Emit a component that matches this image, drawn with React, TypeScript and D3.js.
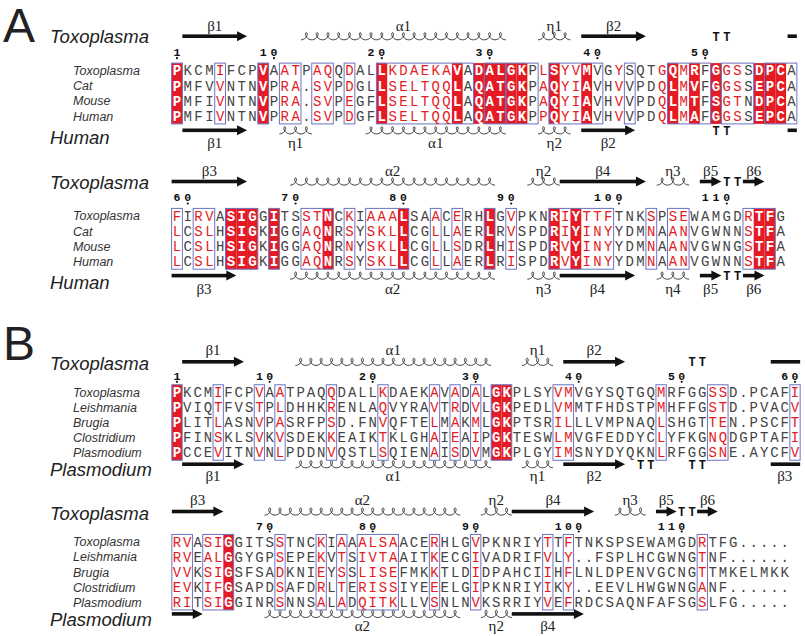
import React from "react";
import * as d3 from "d3";

// ---------------- DATA ----------------
const speciesA = ["Toxoplasma", "Cat", "Mouse", "Human"];
const speciesB = ["Toxoplasma", "Leishmania", "Brugia", "Clostridium", "Plasmodium"];

const seqsA1 = [
  "PKCMIFCPVAATPAQQDALLKDAEKAVADALGKPLSYVMVGYSQTGQMRFGGSSDPCA",
  "PMFVVNTNVPRA.SVPDGLLSELTQQLAQATGKPAQYIAVHVVPDQLMVFGGSSEPCA",
  "PMFIVNTNVPRA.SVPEGFLSELTQQLAQATGKPAQYIAVHVVPDQLMTFSGTNDPCA",
  "PMFIVNTNVPRA.SVPDGFLSELTQQLAQATGKPPQYIAVHVVPDQLMAFGGSSEPCA",
];
const maskA1 = "R---r---R-rr-rr-r--RrrrrrrR-RRRRR-rRrrR--r---rRrR-Rrr-RRR";
const framesA1 = [[1, 1], [5, 5], [9, 9], [11, 12], [14, 15], [17, 17], [20, 28], [30, 31], [32, 34], [36, 40], [43, 43], [47, 50], [52, 54], [56, 58]];

const seqsA2 = [
  "FIRVASIGGITSSTNCKIAAALSAACERHLGVPKNRIYTTFTNKSPSEWAMGDRTFG",
  "LCSLHSIGKIGGAQNRSYSKLLCGLLAERLRVSPDRIYINYYDMNAANVGWNNSTFA",
  "LCSLHSIGKIGGAQNRNYSKLLCGLLSDRLHISPDRVYINYYDMNAANVGWNGSTFA",
  "LCSLHSIGKIGGAQNRSYSKLLCGLLAERLRISPDRVYINYYDMNAANVGWNNSTFA",
];
const maskA2 = "r-rr-RRR-R--rrR-r-rrrR--r-r--R-r---RrRrrr---r-rr-----rRR-";
const framesA2 = [[1, 1], [3, 4], [6, 8], [10, 10], [13, 15], [17, 17], [19, 22], [25, 25], [27, 27], [30, 30], [32, 32], [36, 41], [45, 45], [47, 48], [54, 56]];

const seqsB1 = [
  "PKCMIFCPVAATPAQQDALLKDAEKAVADALGKPLSYVMVGYSQTGQMRFGGSSD.PCAFI",
  "PVIQTFVSTPLDHHKRENLAQVYRAVTRDVLGKPEDLVMMTFHDSTPMHFFGSTD.PVACV",
  "PLITLASNVPASRFPSD.FNVQFTELMAKMLGKPTSRILLLVMPNAQLSHGTTEN.PSCFT",
  "PFINSKLSVKVSDEKKEAIKTKLGHAIEAIPGKTESWLMVGFEDDYCLYFKGNQDGPTAFI",
  "PCCEVITNVNLPDDNVQSTLSQIENAISDVMGKPLGYIMSNYDYQKNLRFGGSNE.AYCFV",
];
const maskB1 = "R---r---r-r----r----r----r-r-r-RR----rr--------r----rr------r";
const framesB1 = [[1, 1], [5, 5], [9, 9], [11, 11], [16, 16], [21, 21], [26, 26], [28, 28], [30, 30], [32, 33], [38, 39], [48, 48], [53, 54], [61, 61]];

const seqsB2 = [
  "RVASIGGITSSTNCKIAAALSAACERHLGVPKNRIYTTFTNKSPSEWAMGDRTFG.....",
  "RVEALGGYGPSEPEKVTSIVTAAITKECGIVADRIFVLY..FSPLHCGWNGTNF......",
  "VVKSIGSFSADKNIEYSSLISEFMKKTLDIDPAHCIIHFLNLDPENVGCNGTTMKELMKK",
  "EVKIFGSAPDSAFDRLTERISSIYEEELGIPKNRIYIKY..EEVLHWGWNGANF......",
  "RITSIGGINRSNNSALADQITKLLVSNLNVKSRRIYVEFRDCSAQNFAFSGSLFG.....",
];
const maskB2 = "rr-rrR----r---r-r-rrrr---r---r------r-r------------r--------";
const framesB2 = [[1, 2], [4, 6], [11, 11], [15, 15], [17, 17], [19, 22], [26, 26], [30, 30], [37, 37], [39, 39], [52, 52]];

// secondary structure: [type, startCol, endCol, label]  E=strand H=helix T=turn B=bar
type El = [string, number, number, string];
const topA1: El[] = [["E", 2, 7, "β1"], ["H", 13, 31, "α1"], ["H", 35, 37, "η1"], ["E", 39, 44, "β2"], ["T", 51, 52, ""], ["B", 58, 58, ""]];
const botA1: El[] = [["E", 2, 7, "β1"], ["H", 11, 13, "η1"], ["H", 19, 31, "α1"], ["H", 35, 37, "η2"], ["E", 39, 43, "β2"], ["T", 51, 52, ""], ["B", 58, 58, ""]];
const topA2: El[] = [["E", 1, 7, "β3"], ["H", 12, 30, "α2"], ["H", 34, 36, "η2"], ["E", 37, 44, "β4"], ["H", 46, 48, "η3"], ["E", 50, 51, "β5"], ["T", 52, 53, ""], ["E", 54, 55, "β6"]];
const botA2: El[] = [["E", 1, 6, "β3"], ["H", 12, 30, "α2"], ["H", 34, 36, "η3"], ["E", 37, 43, "β4"], ["H", 46, 48, "η4"], ["E", 50, 51, "β5"], ["T", 52, 53, ""], ["E", 54, 55, "β6"]];
const topB1: El[] = [["E", 2, 7, "β1"], ["H", 13, 31, "α1"], ["H", 35, 37, "η1"], ["E", 39, 44, "β2"], ["T", 51, 52, ""], ["B", 59, 61, ""]];
const botB1: El[] = [["E", 2, 7, "β1"], ["H", 13, 31, "α1"], ["H", 35, 37, "η1"], ["E", 39, 44, "β2"], ["T", 46, 47, ""], ["T", 51, 52, ""], ["B", 59, 61, "β3"]];
const topB2: El[] = [["E", 1, 5, "β3"], ["H", 10, 28, "α2"], ["H", 31, 33, "η2"], ["E", 34, 41, "β4"], ["H", 44, 46, "η3"], ["E", 48, 49, "β5"], ["T", 50, 51, ""], ["E", 52, 53, "β6"]];
const botB2: El[] = [["E", 1, 3, ""], ["H", 10, 28, "α2"], ["H", 31, 33, "η2"], ["E", 34, 40, "β4"]];

// ---------------- STYLE ----------------
const RED = "#e41b24";
const BLUE = "#6b72c4";
const INK = "#444";
const MONO = "'Liberation Mono', 'Courier New', monospace";
const SANS = "'Liberation Sans', Arial, sans-serif";
const SERIF = "'Liberation Serif', 'Times New Roman', serif";

interface Geo {
  colW: number; step: number; lab: number; arr: number; num: number; dot: number;
  bArr: number; bLab: number; bigTop: number; bigBot: number;
}
const geoA: Geo = { colW: 10.78, step: 15.2, lab: -45, arr: -34.5, num: -19, dot: -12.5, bArr: 14, bLab: 27, bigTop: -34, bigBot: 21 };
const geoB: Geo = { colW: 10.3, step: 15.1, lab: -42, arr: -30.5, num: -16.5, dot: -10.5, bArr: 11.5, bLab: 23.5, bigTop: -29, bigBot: 17 };

function helixPath(x0: number, x1: number, yc: number, n: number) {
  const p = (x1 - x0) / n;
  const d = 3.1, A = 3.6;
  const t0 = -Math.PI, t1 = 2 * Math.PI * n - Math.PI;
  const N = n * 32;
  const pts: [number, number][] = [];
  for (let i = 0; i <= N; i++) {
    const t = t0 + ((t1 - t0) * i) / N;
    pts.push([x0 + p / 2 + (p * t) / (2 * Math.PI) - d * Math.sin(t), yc - A * Math.cos(t)]);
  }
  return d3.line()(pts) || "";
}

function SS({ els, x, w, y, ly, k }: { els: El[]; x: d3.ScaleLinear<number, number>; w: number; y: number; ly: number; k: string }) {
  return (
    <g>
      {els.map((e, i) => {
        const [type, s, t, label] = e;
        const x0 = x(s) - w / 2, x1 = x(t) + w / 2;
        const cx = (x0 + x1) / 2;
        let mark: React.ReactNode = null;
        if (type === "E") {
          mark = (
            <g>
              <rect x={x0} y={y - 1.8} width={Math.max(0, x1 - x0 - 9)} height={3.6} fill="#111" />
              <path d={`M${x1 - 10},${y - 5} L${x1},${y} L${x1 - 10},${y + 5} Z`} fill="#111" />
            </g>
          );
        } else if (type === "B") {
          mark = <rect x={x0 + 1.5} y={y - 1.8} width={x1 - x0 - 1.5} height={3.6} fill="#111" />;
        } else if (type === "H") {
          mark = <path d={helixPath(x0, x1, y, t - s + 1)} fill="none" stroke="#222" strokeWidth={0.9} />;
        } else if (type === "T") {
          mark = (
            <g>
              {d3.range(s, t + 1).map((c) => (
                <text key={c} x={x(c)} y={y + 4.5} textAnchor="middle" fontFamily={MONO} fontWeight="bold" fontSize={12} fill="#111">T</text>
              ))}
            </g>
          );
        }
        return (
          <g key={k + i}>
            {mark}
            {label ? (
              <text x={cx} y={ly + 5} textAnchor="middle" fontFamily={SERIF} fontSize={15} fill="#222">{label}</text>
            ) : null}
          </g>
        );
      })}
    </g>
  );
}

function Block({ seqs, names, mask, frames, startNum, top, bottom, y0, geo, bigTop, bigBot, id }: {
  seqs: string[]; names: string[]; mask: string; frames: number[][]; startNum: number; top: El[]; bottom: El[];
  y0: number; geo: Geo; bigTop: string; bigBot: string; id: string;
}) {
  const n = seqs[0].length;
  const x = d3.scaleLinear().domain([1, n]).range([177, 177 + (n - 1) * geo.colW]);
  const rowY = d3.scaleLinear().domain([0, 1]).range([y0, y0 + geo.step]);
  const nr = seqs.length;
  const yTop = rowY(0) - geo.step / 2;
  const yBot = rowY(nr - 1) + geo.step / 2;
  const w = geo.colW;

  const nums: { col: number; num: number }[] = [];
  let r = startNum - 1;
  for (let c = 1; c <= n; c++) {
    if (seqs[0][c - 1] !== ".") {
      r++;
      if (r === 1 || r % 10 === 0) nums.push({ col: c, num: r });
    }
  }
  const lastY = rowY(nr - 1);

  return (
    <g>
      <text x={50} y={y0 + geo.bigTop + 6.5} fontFamily={SANS} fontStyle="italic" fontSize={18.5} fill="#222">{bigTop}</text>
      <text x={50} y={lastY + geo.bigBot + 6.5} fontFamily={SANS} fontStyle="italic" fontSize={18.5} fill="#222">{bigBot}</text>
      {names.map((nm, i) => (
        <text key={nm + i} x={73} y={rowY(i) + 4.3} fontFamily={SANS} fontStyle="italic" fontSize={12.5} fill="#333">{nm}</text>
      ))}
      <SS els={top} x={x} w={w} y={y0 + geo.arr} ly={y0 + geo.lab} k={id + "t"} />
      <SS els={bottom} x={x} w={w} y={lastY + geo.bArr} ly={lastY + geo.bLab} k={id + "b"} />
      {nums.map(({ col, num }) => {
        const s = String(num);
        return (
          <g key={"n" + col}>
            {s.split("").map((ch, j) => (
              <text key={j} x={x(col - s.length + 1 + j)} y={y0 + geo.num + 4} textAnchor="middle" fontFamily={MONO} fontWeight="bold" fontSize={11.5} fill="#111">{ch}</text>
            ))}
            <circle cx={x(col)} cy={y0 + geo.dot} r={1.1} fill="#111" />
          </g>
        );
      })}
      {mask.split("").map((m, i) =>
        m === "R" ? (
          <rect key={"r" + i} x={x(i + 1) - w / 2} y={yTop} width={w} height={yBot - yTop} fill={RED} />
        ) : null
      )}
      {frames.map(([a, b], i) => (
        <rect key={"f" + i} x={x(a) - w / 2} y={yTop} width={x(b) - x(a) + w} height={yBot - yTop} fill="none" stroke={BLUE} strokeWidth={1} />
      ))}
      {seqs.map((sq, ri) => (
        <g key={"s" + ri}>
          {sq.split("").map((ch, ci) => {
            const m = mask[ci];
            const fill = m === "R" ? "#fff" : m === "r" ? RED : INK;
            return (
              <text key={ci} x={x(ci + 1)} y={rowY(ri) + 4.6} textAnchor="middle" fontFamily={MONO} fontSize={14}
                fontWeight={m === "R" ? "bold" : "normal"} fill={fill}>{ch}</text>
            );
          })}
        </g>
      ))}
    </g>
  );
}

export default function App() {
  return (
    <svg width={805} height={636} viewBox="0 0 805 636" style={{ position: "absolute", left: 0, top: 0, background: "#fff" }}>
      <rect width={805} height={636} fill="#fff" />
      <text x={3} y={42} fontFamily={SANS} fontSize={48} fill="#222">A</text>
      <text x={3} y={360} fontFamily={SANS} fontSize={48} fill="#222">B</text>
      <Block id="a1" seqs={seqsA1} names={speciesA} mask={maskA1} frames={framesA1} startNum={1} top={topA1} bottom={botA1}
        y0={70.7} geo={geoA} bigTop="Toxoplasma" bigBot="Human" />
      <Block id="a2" seqs={seqsA2} names={speciesA} mask={maskA2} frames={framesA2} startNum={59} top={topA2} bottom={botA2}
        y0={216} geo={geoA} bigTop="Toxoplasma" bigBot="Human" />
      <Block id="b1" seqs={seqsB1} names={speciesB} mask={maskB1} frames={framesB1} startNum={1} top={topB1} bottom={botB1}
        y0={392.3} geo={geoB} bigTop="Toxoplasma" bigBot="Plasmodium" />
      <Block id="b2" seqs={seqsB2} names={speciesB} mask={maskB2} frames={framesB2} startNum={61} top={topB2} bottom={botB2}
        y0={542} geo={geoB} bigTop="Toxoplasma" bigBot="Plasmodium" />
    </svg>
  );
}
